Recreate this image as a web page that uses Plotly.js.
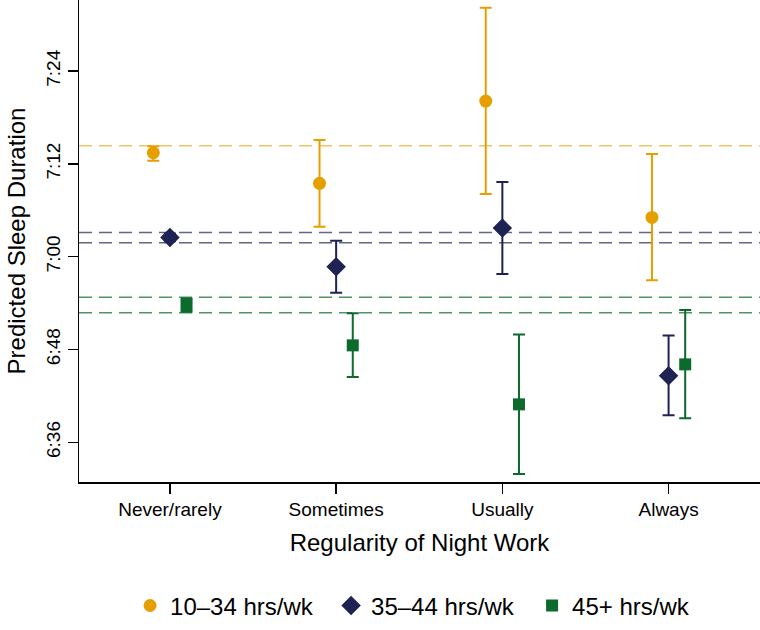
<!DOCTYPE html>
<html>
<head>
<meta charset="utf-8">
<script src="https://cdn.plot.ly/plotly-3.0.1.min.js"></script>
<style>html,body{margin:0;padding:0;background:#fff;}#chart{width:760px;height:630px;}</style>
</head>
<body>
<div id="chart"></div>
<script>
// Categories (x) and tick labels
const categories = ["Never/rarely", "Sometimes", "Usually", "Always"];
const yTickVals = [396, 408, 420, 432, 444]; // minutes (hours*60+min)
const yTickText = ["6:36", "6:48", "7:00", "7:12", "7:24"];

// Series names
const seriesNames = ["10\u201334 hrs/wk", "35\u201344 hrs/wk", "45+ hrs/wk"];

// Predicted sleep duration (minutes) and 95% CI bounds, per series
const est1034 = [433.45, 429.49, 440.13, 425.09];
const lo1034  = [432.4, 423.88, 428.1, 416.95];
const hi1034  = [434.3, 435.09, 452.2, 433.28];

const est3544 = [422.5, 418.71, 423.71, 404.61];
const lo3544  = [422.0, 415.34, 417.76, 399.49];
const hi3544  = [423.0, 422.07, 429.66, 409.83];

const est45   = [413.75, 408.54, 400.91, 406.08];
const lo45    = [412.9, 404.44, 391.9, 399.1];
const hi45    = [414.6, 412.68, 409.96, 413.11];

// Reference (dashed) lines, minutes
const ref1034 = [434.35];
const ref3544 = [423.15, 421.8];
const ref45   = [414.75, 412.76];

// styles
const colors = ["#E69F00", "#1E2353", "#0B6A2C"];
const refColors = ["rgba(230,159,0,0.6)", "rgba(30,35,83,0.7)", "rgba(11,106,44,0.72)"];
const symbols = ["circle", "diamond", "square"];
const sizes = [13, 15, 12];
const offsets = [-0.1, 0, 0.1];

const ests = [est1034, est3544, est45];
const los = [lo1034, lo3544, lo45];
const his = [hi1034, hi3544, hi45];
const refs = [ref1034, ref3544, ref45];

const traces = ests.map((est, s) => ({
  type: "scatter",
  mode: "markers",
  name: seriesNames[s],
  x: categories.map((c, i) => i + 1 + offsets[s]),
  y: est,
  marker: {color: colors[s], symbol: symbols[s], size: sizes[s], line: {width: 0}},
  error_y: {
    type: "data", symmetric: false,
    array: est.map((v, i) => his[s][i] - v),
    arrayminus: est.map((v, i) => v - los[s][i]),
    color: colors[s], thickness: 2, width: 6
  }
}));

const shapes = [];
refs.forEach((arr, s) => arr.forEach(v => shapes.push({
  type: "line", xref: "paper", x0: 0, x1: 1, yref: "y", y0: v, y1: v,
  line: {color: refColors[s], width: 1.5, dash: "13px,7px"}, layer: "below"
})));

const font = "Liberation Sans, Arial, Helvetica, sans-serif";
const layout = {
  width: 760, height: 630,
  margin: {l: 79, r: 0, t: 0, b: 148, pad: 0},
  paper_bgcolor: "#fff", plot_bgcolor: "#fff",
  font: {family: font, color: "#000", size: 19},
  showlegend: true,
  legend: {orientation: "h", x: 0.075, xanchor: "left", y: -0.257, yanchor: "middle",
           font: {family: font, size: 24, color: "#000"}, itemwidth: 30, traceorder: "normal",
           entrywidth: 156, entrywidthmode: "pixels"},
  xaxis: {
    range: [0.453, 4.55], tickmode: "array", tickvals: categories.map((c, i) => i + 1), ticktext: categories,
    showgrid: false, zeroline: false, showline: true, linecolor: "#000", linewidth: 1.5,
    ticks: "outside", ticklen: 10, tickwidth: 1.5, tickcolor: "#000",
    tickfont: {size: 19},
    title: {text: "Regularity of Night Work", font: {size: 24}, standoff: 15}
  },
  yaxis: {
    range: [390.87, 453.2], tickmode: "array", tickvals: yTickVals, ticktext: yTickText,
    tickangle: -90,
    showgrid: false, zeroline: false, showline: true, linecolor: "#000", linewidth: 1.5,
    ticks: "outside", ticklen: 10, tickwidth: 1.5, tickcolor: "#000",
    tickfont: {size: 19},
    title: {text: "Predicted Sleep Duration", font: {size: 24}, standoff: 10}
  },
  shapes: shapes
};

Plotly.newPlot("chart", traces, layout, {displayModeBar: false, staticPlot: true});
</script>
</body>
</html>
